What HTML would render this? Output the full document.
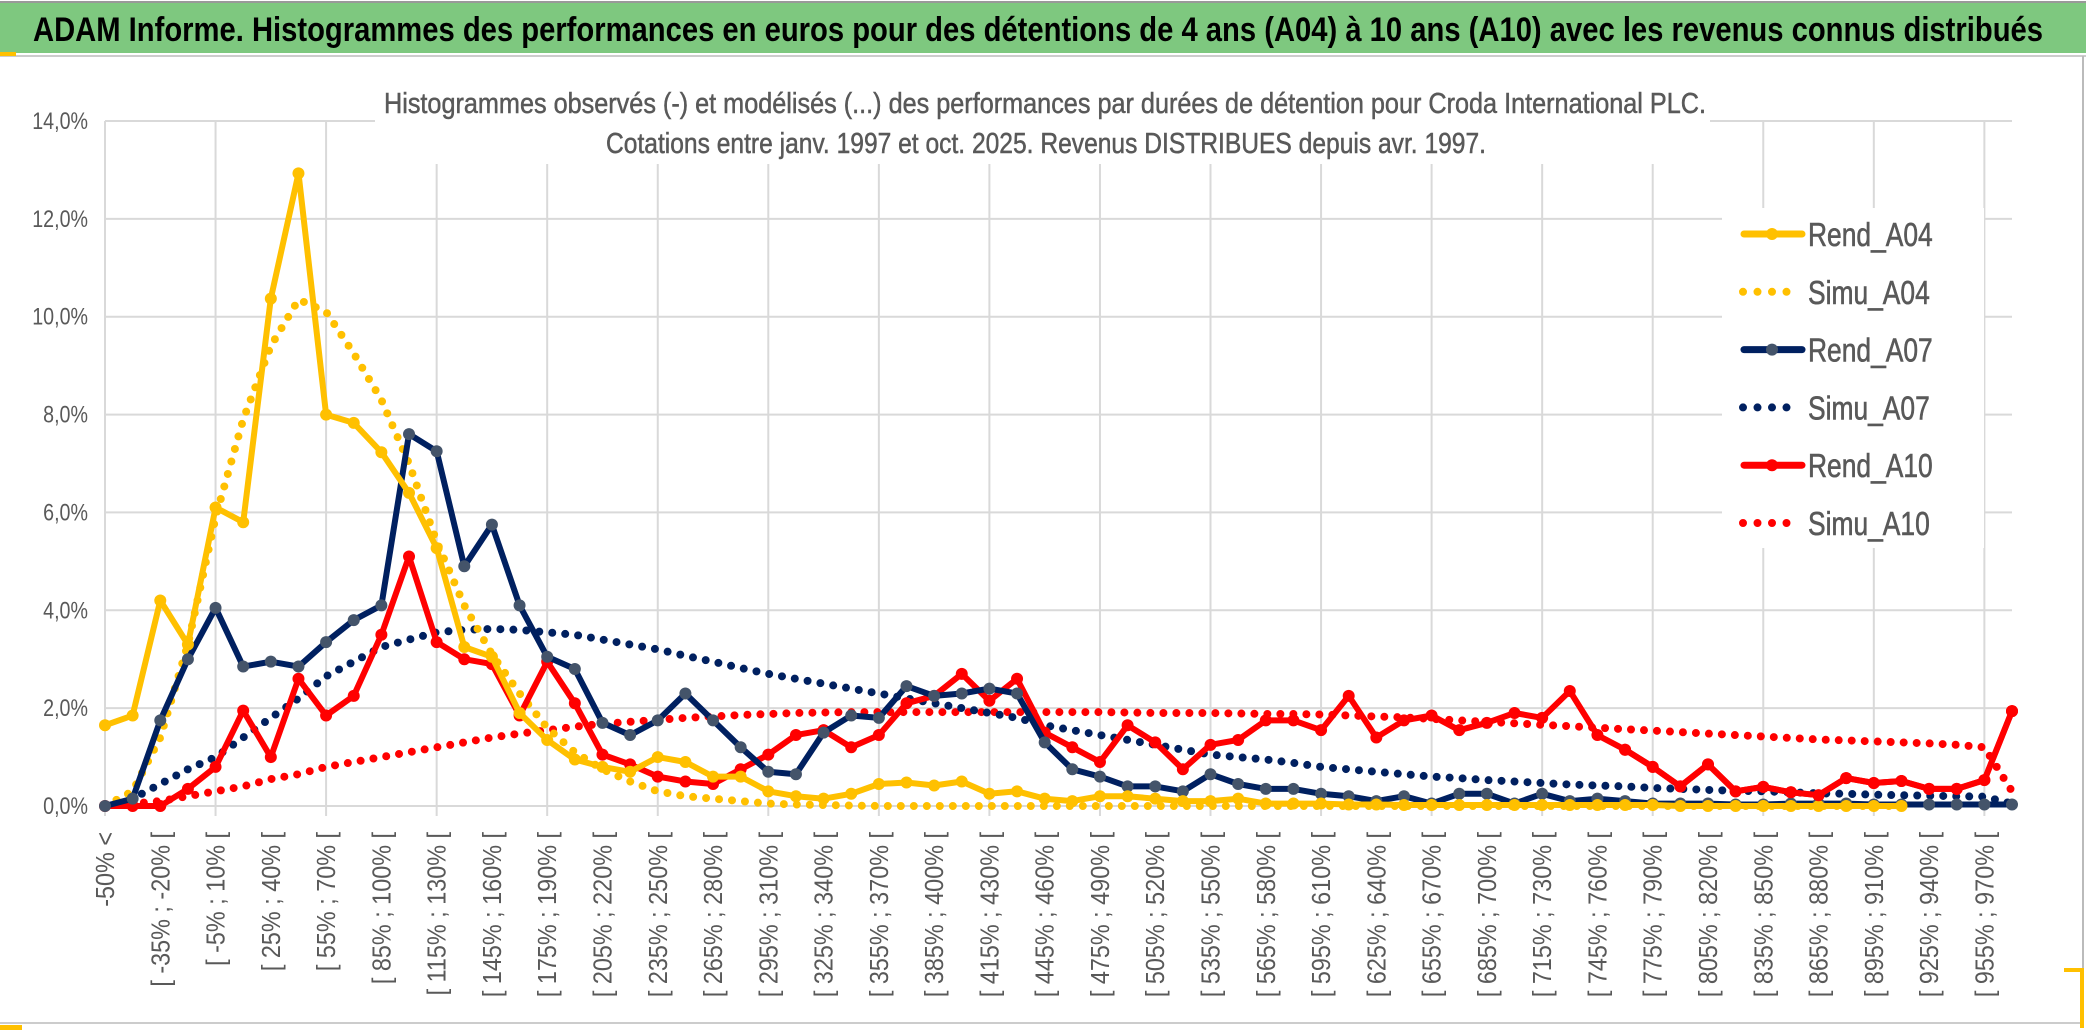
<!DOCTYPE html>
<html><head><meta charset="utf-8"><style>
html,body{margin:0;padding:0;background:#fff;}
svg{display:block;font-family:"Liberation Sans",sans-serif;}
</style></head><body>
<svg id="chart" width="2086" height="1033" viewBox="0 0 2086 1033" xmlns="http://www.w3.org/2000/svg">
<rect x="0" y="0" width="2086" height="1033" fill="#fff"/>
<rect x="0" y="3" width="2086" height="50" fill="#7EC87F"/>
<line x1="0" y1="2" x2="2086" y2="2" stroke="#999" stroke-width="2"/>
<line x1="0" y1="56" x2="2086" y2="56" stroke="#ccc" stroke-width="2"/>
<rect x="0" y="52" width="16" height="4" fill="#FFC000"/>
<text x="33" y="41" font-size="34" font-weight="bold" fill="#000" textLength="2010" lengthAdjust="spacingAndGlyphs">ADAM Informe. Histogrammes des performances en euros pour des détentions de 4 ans (A04) à 10 ans (A10) avec les revenus connus distribués</text>
<line x1="2083" y1="56" x2="2083" y2="1023" stroke="#bbb" stroke-width="2"/>
<line x1="0" y1="1023" x2="2083" y2="1023" stroke="#ccc" stroke-width="2"/>
<rect x="2064" y="968" width="19" height="4" fill="#FFC000"/>
<rect x="2080" y="968" width="4" height="60" fill="#FFC000"/>
<rect x="0" y="1025" width="22" height="5" fill="#FFC000"/>
<g id="grid"></g>
<g id="yaxis"></g>
<g id="xaxis"></g>
<rect x="375" y="80" width="1335" height="84" fill="#fff"/>
<text x="1045" y="113" font-size="29" fill="#595959" stroke="#595959" stroke-width="0.5" text-anchor="middle" textLength="1322" lengthAdjust="spacingAndGlyphs">Histogrammes observés (-) et modélisés (...) des performances par durées de détention pour Croda International PLC.</text>
<text x="1046" y="153" font-size="29" fill="#595959" stroke="#595959" stroke-width="0.5" text-anchor="middle" textLength="880" lengthAdjust="spacingAndGlyphs">Cotations entre janv. 1997 et oct. 2025. Revenus DISTRIBUES depuis avr. 1997.</text>
<g id="series"></g>
<g id="legend"></g>
</svg>
<script>
const categoryStarts = [];
for (let i = 1; i < 70; i++) categoryStarts.push(-50 + 15 * (i - 1));
const yTicks = [0, 2, 4, 6, 8, 10, 12, 14];
const rendA04 = [1.65,1.85,4.2,3.3,6.1,5.8,10.37,12.93,8.0,7.83,7.23,6.4,5.27,3.25,3.05,1.9,1.35,0.95,0.8,0.7,1.0,0.9,0.6,0.6,0.3,0.2,0.15,0.25,0.45,0.48,0.42,0.5,0.25,0.3,0.15,0.1,0.2,0.2,0.15,0.1,0.1,0.15,0.05,0.05,0.05,0.03,0.03,0.02,0.02,0.02,0.02,0.02,0.02,0.02,0.02,0.02,0.02,0.0,0.0,0.0,0.0,0.0,0.0,0.0,0.0,0.0,null,null,null,null];
const simuA04 = [0,0.3,1.4,3.3,5.9,7.9,9.4,10.35,10.1,9.25,8.3,7.0,5.4,4.1,3.1,2.3,1.6,1.1,0.75,0.5,0.3,0.2,0.15,0.1,0.05,0.03,0.02,0.01,0,0,0,0,0,0,0,0,0,0,0,0,0,0,0,0,0,0,0,0,0,0,0,0,0,0,0,0,0,0,0,0,0,0,0,0,0,0,null,null,null,null];
const rendA07 = [0,0.15,1.75,3.0,4.05,2.85,2.95,2.85,3.35,3.8,4.1,7.6,7.25,4.9,5.75,4.1,3.05,2.8,1.7,1.45,1.75,2.3,1.75,1.2,0.7,0.65,1.5,1.85,1.8,2.45,2.25,2.3,2.4,2.3,1.3,0.75,0.6,0.4,0.4,0.3,0.65,0.45,0.35,0.35,0.25,0.2,0.1,0.2,0.05,0.25,0.25,0.05,0.25,0.1,0.15,0.1,0.05,0.05,0.05,0.03,0.03,0.05,0.05,0.05,0.03,0.03,0.03,0.03,0.03,0.03];
const simuA07 = [0,0.15,0.45,0.75,1.0,1.4,1.8,2.2,2.65,2.95,3.25,3.4,3.55,3.6,3.62,3.6,3.55,3.5,3.4,3.3,3.2,3.07,2.95,2.82,2.7,2.6,2.5,2.4,2.3,2.2,2.1,2.0,1.9,1.8,1.65,1.55,1.45,1.35,1.25,1.15,1.05,1.0,0.95,0.88,0.8,0.75,0.7,0.65,0.6,0.57,0.53,0.5,0.47,0.44,0.42,0.4,0.37,0.35,0.33,0.31,0.3,0.28,0.26,0.25,0.23,0.22,0.21,0.2,0.19,0.05];
const rendA10 = [0,0,0,0.35,0.8,1.95,1.0,2.6,1.85,2.25,3.5,5.1,3.35,3.0,2.9,1.85,2.95,2.1,1.05,0.85,0.6,0.5,0.45,0.75,1.05,1.45,1.55,1.2,1.45,2.1,2.25,2.7,2.15,2.6,1.5,1.2,0.9,1.65,1.3,0.75,1.25,1.35,1.75,1.75,1.55,2.25,1.4,1.75,1.85,1.55,1.7,1.9,1.8,2.35,1.45,1.15,0.8,0.4,0.85,0.3,0.39,0.28,0.22,0.57,0.47,0.51,0.35,0.35,0.53,1.94];
const simuA10 = [0,0.05,0.1,0.2,0.3,0.4,0.55,0.65,0.8,0.9,1.0,1.1,1.2,1.3,1.4,1.48,1.55,1.62,1.68,1.72,1.76,1.8,1.83,1.86,1.88,1.9,1.91,1.92,1.92,1.92,1.92,1.92,1.92,1.92,1.92,1.92,1.92,1.91,1.9,1.9,1.9,1.89,1.88,1.88,1.87,1.85,1.83,1.81,1.78,1.75,1.72,1.69,1.66,1.63,1.6,1.57,1.54,1.51,1.48,1.45,1.42,1.39,1.36,1.34,1.32,1.3,1.28,1.25,1.2,0.3];

const NS = "http://www.w3.org/2000/svg";
const X0 = 105, X1 = 2012, Y0 = 806, Y14 = 121;
const N = 70;
function xs(i){ return X0 + i * (X1 - X0) / (N - 1); }
function ys(v){ return Y0 - v * (Y0 - Y14) / 14; }
function mk(tag, attrs, parent){ const e = document.createElementNS(NS, tag); for (const k in attrs) e.setAttribute(k, attrs[k]); parent.appendChild(e); return e; }
function catLabel(i){ if (i === 0) return "-50% <"; const s = categoryStarts[i-1]; return "[ " + s + "% ; " + (s + 15) + "% ["; }

const grid = document.getElementById('grid');
yTicks.forEach(t => {
  const l = mk('line', {x1: X0, x2: X1, y1: ys(t), y2: ys(t), stroke: '#d9d9d9', 'stroke-width': 2}, grid);
  
  
});
for (let i = 0; i < N; i += 4) {
  const l = mk('line', {x1: xs(i), x2: xs(i), y1: Y14, y2: Y0 + 10, stroke: '#d9d9d9', 'stroke-width': 2}, grid);
  
  
}
const yax = document.getElementById('yaxis');
yTicks.forEach(t => {
  const y = ys(t) + 8;
  const tx = mk('text', {x: 0, y: 0, 'font-size': 24, fill: '#595959', 'text-anchor': 'end', transform: 'translate(88 ' + y + ') scale(0.82 1)'}, yax);
  tx.textContent = t.toFixed(1).replace('.', ',') + '%';
  
  
});
const xax = document.getElementById('xaxis');
for (let i = 0; i < N; i += 2) {
  const x = xs(i) + 9, y = 832;
  const tx = mk('text', {x: 0, y: 0, 'font-size': 26, fill: '#595959', 'text-anchor': 'end', transform: 'translate(' + x + ' ' + y + ') rotate(-90) scale(0.9 1)'}, xax);
  tx.textContent = catLabel(i);
  
  
}

const ser = document.getElementById('series');
function pathFor(arr){ let d = '', pen = false; arr.forEach((v,i) => { if (v === null) { pen = false; return; } d += (pen ? 'L' : 'M') + xs(i).toFixed(1) + ' ' + ys(v).toFixed(1); pen = true; }); return d; }
function dotted(arr, color, name){
  const p = mk('path', {d: pathFor(arr), fill: 'none', stroke: color, 'stroke-width': 8, 'stroke-linecap': 'round', 'stroke-dasharray': '0 13'}, ser);
  
  
}
function solid(arr, color, mcolor, name){
  const g = mk('g', {}, ser);
  
  
  const p = mk('path', {d: pathFor(arr), fill: 'none', stroke: color, 'stroke-width': 6, 'stroke-linejoin': 'round'}, g);
  
  
  arr.forEach((v,i) => { if (v === null) return;
    const c = mk('circle', {cx: xs(i), cy: ys(v), r: 6, fill: mcolor}, g);
    
    
  });
}
dotted(simuA10, '#FF0000', 'simu-a10-line');
dotted(simuA07, '#002060', 'simu-a07-line');
dotted(simuA04, '#FFC000', 'simu-a04-line');
solid(rendA10, '#FF0000', '#FF0000', 'rend-a10');
solid(rendA07, '#002060', '#44546A', 'rend-a07');
solid(rendA04, '#FFC000', '#FFC000', 'rend-a04');
solid(rendA10.map((v,i)=> i>=55 ? v : null), '#FF0000', '#FF0000', 'rend-a10-tail');

const leg = document.getElementById('legend');
const lb = mk('rect', {x: 1722, y: 208, width: 262, height: 340, fill: '#fff'}, leg);


const legendEntries = [['Rend_A04','#FFC000','#FFC000',false],['Simu_A04','#FFC000',null,true],['Rend_A07','#002060','#44546A',false],['Simu_A07','#002060',null,true],['Rend_A10','#FF0000','#FF0000',false],['Simu_A10','#FF0000',null,true]];
legendEntries.forEach((e,i) => {
  const y = 234 + i * 57.8;
  const g = mk('g', {}, leg);
  
  
  if (e[3]) {
    mk('line', {x1: 1743, x2: 1796, y1: y, y2: y, stroke: e[1], 'stroke-width': 8, 'stroke-linecap': 'round', 'stroke-dasharray': '0 14.5'}, g);
  } else {
    mk('line', {x1: 1744, x2: 1802, y1: y, y2: y, stroke: e[1], 'stroke-width': 7, 'stroke-linecap': 'round'}, g);
    mk('circle', {cx: 1772, cy: y, r: 6, fill: e[2]}, g);
  }
  const t = mk('text', {x: 0, y: 0, 'font-size': 33, fill: '#595959', stroke: '#595959', 'stroke-width': 0.6, transform: 'translate(1808 ' + (y + 12) + ') scale(0.8 1)'}, g);
  t.textContent = e[0];
});
</script>
</body></html>
